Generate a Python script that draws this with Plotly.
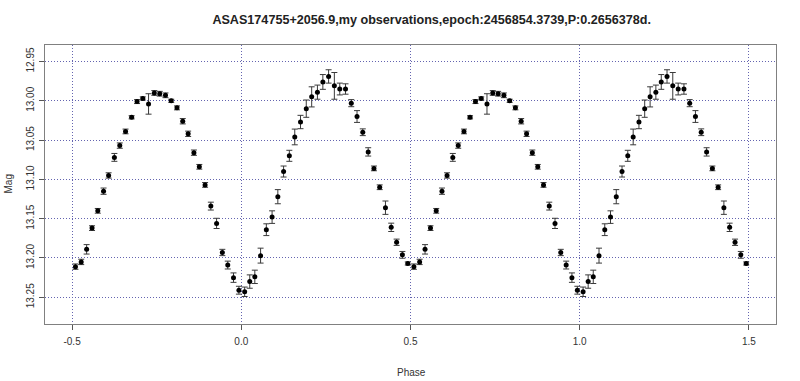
import plotly.graph_objects as go

# One folded cycle of observations (phase, magnitude, 1-sigma error)
phase = [-0.490, -0.473, -0.457, -0.441, -0.424, -0.407, -0.392, -0.375, -0.359, -0.342,
         -0.324, -0.308, -0.291, -0.274, -0.257, -0.241, -0.224, -0.207, -0.190, -0.173,
         -0.157, -0.140, -0.124, -0.107, -0.090, -0.073, -0.056, -0.040, -0.023, -0.007,
         0.010, 0.025, 0.040, 0.057, 0.074, 0.091, 0.108, 0.125, 0.142, 0.158,
         0.175, 0.192, 0.208, 0.225, 0.241, 0.258, 0.275, 0.291, 0.308, 0.325,
         0.342, 0.359, 0.375, 0.392, 0.409, 0.426, 0.443, 0.459, 0.476, 0.492]
mag = [13.211, 13.205, 13.189, 13.162, 13.140, 13.115, 13.095, 13.072, 13.057, 13.039,
       13.021, 13.001, 12.997, 13.004, 12.990, 12.991, 12.993, 13.000, 13.009, 13.026,
       13.042, 13.066, 13.084, 13.107, 13.134, 13.156, 13.193, 13.209, 13.225, 13.241,
       13.243, 13.230, 13.224, 13.197, 13.164, 13.148, 13.122, 13.090, 13.070, 13.046,
       13.027, 13.010, 12.995, 12.989, 12.976, 12.969, 12.981, 12.985, 12.985, 13.003,
       13.020, 13.040, 13.065, 13.086, 13.110, 13.136, 13.161, 13.180, 13.196, 13.207]
err = [0.0034, 0.0034, 0.006, 0.003, 0.003, 0.004, 0.0034, 0.005, 0.0034, 0.003,
       0.002, 0.0025, 0.002, 0.013, 0.003, 0.003, 0.003, 0.002, 0.0025, 0.0034,
       0.0034, 0.0034, 0.003, 0.003, 0.005, 0.0065, 0.004, 0.005, 0.006, 0.005,
       0.006, 0.0085, 0.0085, 0.0095, 0.0075, 0.008, 0.009, 0.007, 0.007, 0.010,
       0.0085, 0.011, 0.0128, 0.009, 0.0094, 0.0085, 0.017, 0.0075, 0.0066, 0.0045,
       0.0075, 0.0043, 0.0053, 0.003, 0.003, 0.0085, 0.0053, 0.004, 0.0043, 0.002]

x_ticks = [-0.5, 0.0, 0.5, 1.0, 1.5]
x_tick_labels = ["-0.5", "0.0", "0.5", "1.0", "1.5"]
y_ticks = [12.95, 13.00, 13.05, 13.10, 13.15, 13.20, 13.25]
y_tick_labels = ["12.95", "13.00", "13.05", "13.10", "13.15", "13.20", "13.25"]

title_text = "ASAS174755+2056.9,my observations,epoch:2456854.3739,P:0.2656378d."

# the phase diagram shows two cycles
phase_all = phase + [p + 1 for p in phase]
mag_all = mag + mag
err_all = err + err

FONT = "Liberation Sans, Arial, sans-serif"
GRID = "#6464b0"

fig = go.Figure()
fig.add_trace(go.Scatter(
    x=phase_all, y=mag_all, mode="markers",
    marker=dict(color="black", size=5),
    error_y=dict(type="data", array=err_all, visible=True,
                 color="#3a3a3a", thickness=1, width=3),
    showlegend=False,
))

fig.update_layout(
    width=800, height=381,
    margin=dict(l=45, r=24, t=45, b=57),
    paper_bgcolor="white", plot_bgcolor="white",
    font=dict(family=FONT, size=10, color="#333333"),
    title=dict(text="<b>" + title_text + "</b>", x=0.529, xref="paper",
               xanchor="center", y=1 - 20 / 381, yanchor="middle",
               font=dict(family=FONT, size=12.6, color="#222222")),
    xaxis=dict(range=[-0.58, 1.58], tickmode="array", tickvals=x_ticks,
               ticktext=x_tick_labels, ticks="outside", ticklen=5,
               tickcolor="#555555", showline=True, mirror=True,
               linecolor="#808080", linewidth=1, showgrid=True,
               gridcolor=GRID, griddash="1px,2px", gridwidth=1, zeroline=False,
               ticklabelstandoff=3),
    yaxis=dict(range=[13.284, 12.929], tickmode="array", tickvals=y_ticks,
               ticktext=y_tick_labels, ticks="outside", ticklen=5,
               tickcolor="#555555", tickangle=-90, showline=True, mirror=True,
               linecolor="#808080", linewidth=1, showgrid=True,
               gridcolor=GRID, griddash="1px,2px", gridwidth=1, zeroline=False,
               ticklabelstandoff=1),
    annotations=[
        dict(text="Phase", xref="paper", yref="paper", x=(411 - 45) / 731,
             y=-(372 - 324) / 279, xanchor="center", yanchor="middle",
             showarrow=False, font=dict(family=FONT, size=10, color="#333333")),
        dict(text="Mag", xref="paper", yref="paper", x=-(45 - 8) / 731,
             y=0.5, xanchor="center", yanchor="middle", textangle=-90,
             showarrow=False, font=dict(family=FONT, size=10, color="#333333")),
    ],
)

fig.write_html("out.html", config={"displayModeBar": False},
               post_script="document.body.style.margin='0';")
